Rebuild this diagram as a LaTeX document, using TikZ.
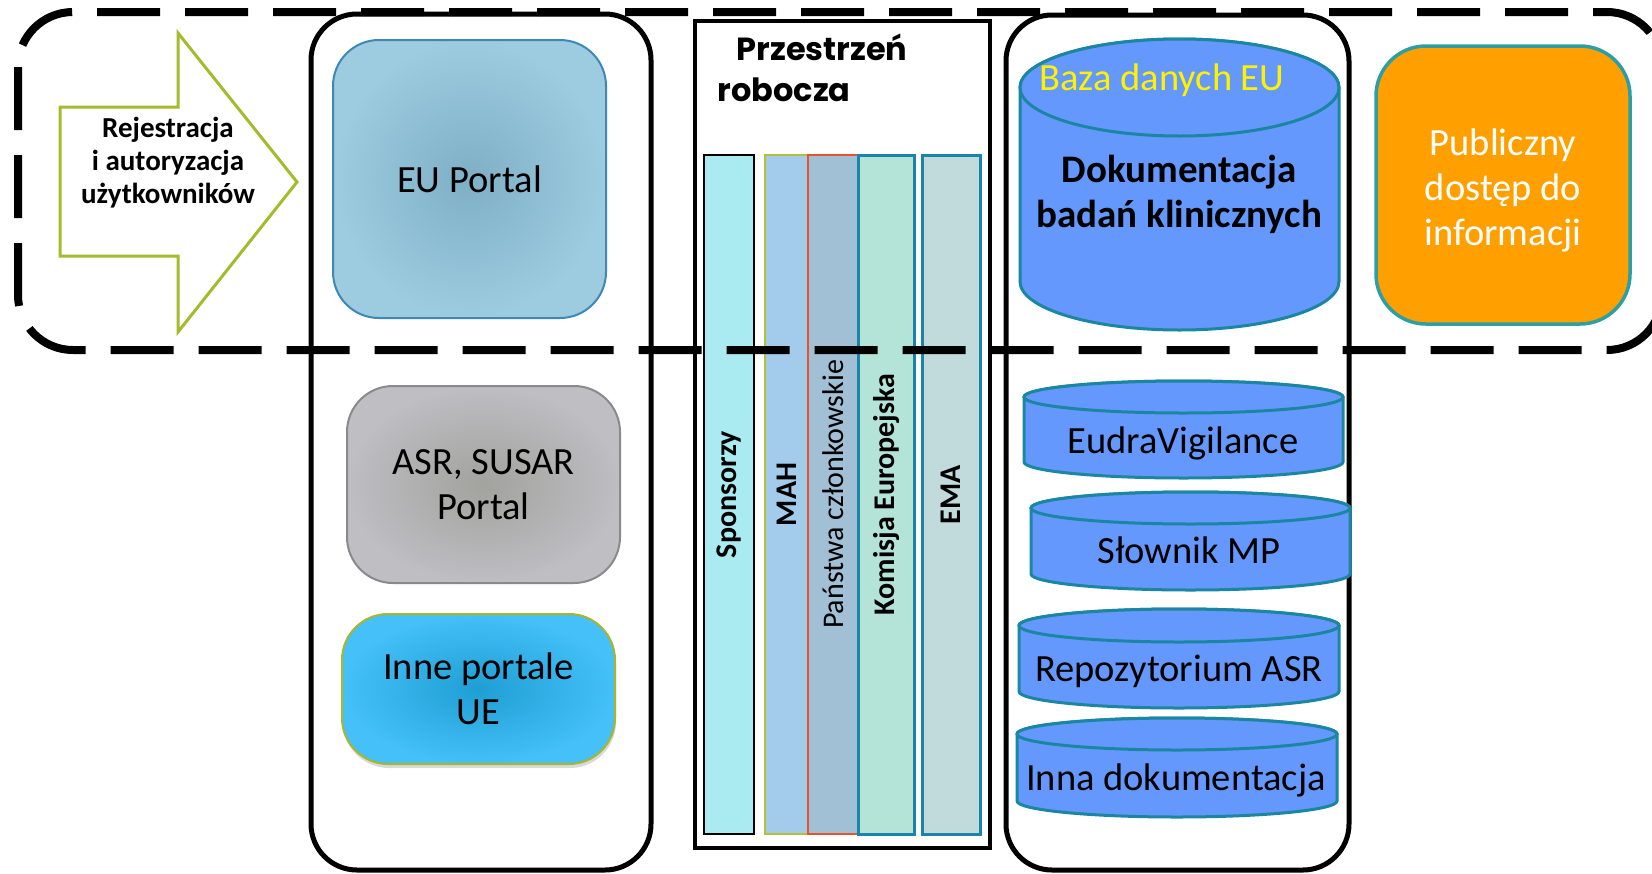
\documentclass[tikz,border=0pt]{standalone}
\usepackage{fontspec}
\setmainfont{Carlito}
\newfontfamily\titlefont{Poppins}
\usetikzlibrary{shadows}

\definecolor{arrowgreen}{HTML}{A5BA2C}
\definecolor{portalline}{HTML}{3C88B6}
\definecolor{portalin}{HTML}{7EAFC5}
\definecolor{portalout}{HTML}{9DCCE0}
\definecolor{asrin}{HTML}{A2A29E}
\definecolor{asrout}{HTML}{BEBEC3}
\definecolor{asrline}{HTML}{8A8A8E}
\definecolor{innein}{HTML}{1E9FD4}
\definecolor{inneout}{HTML}{45C0F8}
\definecolor{inneline}{HTML}{A9B52A}
\definecolor{dbblue}{HTML}{6498FC}
\definecolor{dbline}{HTML}{1B86A2}
\definecolor{pubfill}{HTML}{FFA000}
\definecolor{publine}{HTML}{2A9FA6}
\definecolor{sponsfill}{HTML}{A9EBF0}
\definecolor{mahfill}{HTML}{A3CCEC}
\definecolor{mahline}{HTML}{B2C234}
\definecolor{msfill}{HTML}{A1C0D6}
\definecolor{msline}{HTML}{E8542A}
\definecolor{kefill}{HTML}{B4E3D8}
\definecolor{emafill}{HTML}{C1DBDC}
\definecolor{colline}{HTML}{1B84AA}

\tikzset{
  txt/.style={font=\fontsize{38.5}{45}\selectfont, align=center},
  portal/.style={txt, rounded corners=46pt, line width=2pt, minimum width=273pt, inner sep=0pt},
  column/.style={rotate=90, minimum width=679pt, inner sep=0pt, font=\fontsize{30}{30}\selectfont},
  dbase/.style={draw=dbline, fill=dbblue, line width=3pt},
  frame/.style={line width=5pt, rounded corners=46pt},
  dashbox/.style={line width=8pt, dash pattern=on 63pt off 25pt, rounded corners=55pt},
}

% a database drum: left, right, y of top ellipse, y of bottom ellipse, x radius, y radius
\newcommand{\drum}[6]{%
  \filldraw[dbase] (#1,#3) -- (#1,#4) arc[start angle=180, end angle=0, x radius=#5, y radius=#6]
    -- (#2,#3) arc[start angle=0, end angle=-180, x radius=#5, y radius=#6] -- cycle;
  \draw[dbase] ({(#1+#2)/2},#3) ellipse[x radius=#5, y radius=#6];}

\begin{document}
\begin{tikzpicture}[x=1pt, y=-1pt]
  \useasboundingbox (0,0) rectangle (1652,873);

  % the two tall frames
  \draw[frame] (311,14) rectangle (651,870);
  \draw[frame] (1006,15) rectangle (1349,870);

  % the arrow
  \draw[line width=3pt, draw=arrowgreen, fill=white] (60,107) -- (178,107) -- (178,33) -- (297,182)
    -- (178,332) -- (178,256) -- (60,256) -- cycle;
  \node[font=\fontsize{29}{33}\selectfont\bfseries, align=center] (rejestr) at (168,163)
    {Rejestracja\\i autoryzacja\\użytkowników};

  % the portals
  \node[portal, draw=portalline, inner color=portalin, outer color=portalout, minimum height=278pt]
    (euportal) at (469.5,179) {EU Portal};
  \node[portal, draw=asrline, inner color=asrin, outer color=asrout, minimum height=197pt]
    (asr) at (483.5,484.5) {ASR, SUSAR\\Portal};
  \node[portal, draw=inneline, inner color=innein, outer color=inneout, minimum height=150pt,
    drop shadow={opacity=0.3, shadow xshift=1pt, shadow yshift=-4pt}]
    (inne) at (478.5,689) {Inne portale\\UE};

  % the workspace
  \draw[line width=4pt] (695,21) rectangle (990,848);
  \node[anchor=base west, font=\titlefont\fontsize{32}{36}\selectfont\bfseries] (ws1) at (733,60) {Przestrzeń};
  \node[anchor=base west, font=\titlefont\fontsize{32}{36}\selectfont\bfseries] (ws2) at (714,101) {robocza};

  \node[column, draw=black, line width=1.5pt, fill=sponsfill, minimum height=50pt]
    (spons) at (729,494.5) {\textbf{Sponsorzy}};
  \node[column, draw=mahline, line width=1.5pt, fill=mahfill, minimum height=43pt]
    (mah) at (786.5,494.5) {\textbf{MAH}};
  \node[column, draw=msline, line width=1.5pt, fill=msfill, minimum height=50pt]
    (ms) at (833,494.5) {Państwa członkowskie};
  \node[column, draw=colline, line width=3pt, fill=kefill, minimum height=56pt]
    (ke) at (886,494.5) {\textbf{Komisja Europejska}};
  \node[column, draw=colline, line width=3pt, fill=emafill, minimum height=58pt]
    (ema) at (951,494.5) {\textbf{EMA}};

  % the databases
  \drum{1020}{1339}{87.5}{281.5}{159.5}{48.5}
  \node[anchor=base west, txt, text=yellow] (eudb-t) at (1036,90) {Baza danych EU};
  \node[txt, font=\fontsize{39}{45}\selectfont\bfseries] (doc-t) at (1179,194) {Dokumentacja\\badań klinicznych};

  \drum{1024}{1343}{397}{462}{159.5}{16}
  \node[anchor=base, txt] (eudra-t) at (1183,453) {EudraVigilance};
  \drum{1031}{1350}{508}{574}{159.5}{16}
  \node[anchor=base, txt] (slow-t) at (1189,563) {Słownik MP};
  \drum{1019}{1339}{625.5}{691.5}{160}{16.5}
  \node[anchor=base, txt] (repo-t) at (1179,681) {Repozytorium ASR};
  \drum{1017}{1337}{734}{801}{160}{16}
  \node[anchor=base, txt] (inna-t) at (1176,790) {Inna dokumentacja};

  % public access
  \node[rounded corners=50pt, draw=publine, line width=3.5pt, fill=pubfill,
    minimum width=254pt, minimum height=278pt] (pub) at (1503,185) {};
  \node[txt, text=white] (pub-t) at (1503,190) {Publiczny\\dostęp do\\informacji};

  % the dashed border on top
  \draw[dashbox] (18,12) rectangle (1662,350);
\end{tikzpicture}
\end{document}
